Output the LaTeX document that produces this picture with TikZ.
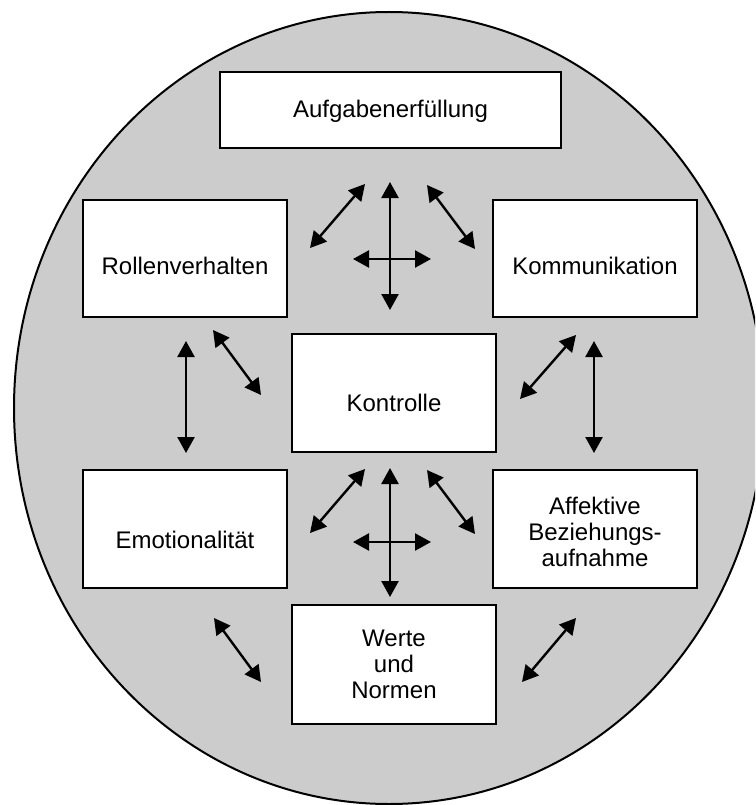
\documentclass[tikz,border=0pt]{standalone}
\usepackage{fontspec}
\setmainfont{Liberation Sans}
\usetikzlibrary{arrows.meta}
\definecolor{fieldgray}{RGB}{204,204,204}
\begin{document}
\begin{tikzpicture}[x=1pt,y=-1pt,
  frame/.style={draw=black, fill=white, line width=2.8pt, inner sep=0pt},
  caption/.style={font=\fontsize{24}{26}\selectfont, align=center, inner sep=0pt},
  link/.style={line width=2.4pt,
    {Triangle[length=16pt,width=17pt]}-{Triangle[length=16pt,width=17pt]}}]
\useasboundingbox (0,0) rectangle (755,805);
\clip (0,0) rectangle (755,805);

% grey field
\draw[fill=fieldgray, line width=2pt] (389,408) ellipse [x radius=375, y radius=396];

% boxes
\node[frame, minimum width=341pt, minimum height=76pt]  (aufg) at (390.5,110) {};
\node[frame, minimum width=204pt, minimum height=117pt] (roll) at (185,258.5) {};
\node[frame, minimum width=204pt, minimum height=117pt] (komm) at (595,258.5) {};
\node[frame, minimum width=204pt, minimum height=118pt] (kont) at (394,393) {};
\node[frame, minimum width=204pt, minimum height=118pt] (emot) at (185,529) {};
\node[frame, minimum width=204pt, minimum height=118pt] (affe) at (595,529) {};
\node[frame, minimum width=204pt, minimum height=119pt] (wert) at (394,664.5) {};

% captions
\node[caption] (aufg-t) at ([yshift=-1pt]aufg.center)  {Aufgabenerfüllung};
\node[caption] (roll-t) at ([yshift=-7pt]roll.center)  {Rollenverhalten};
\node[caption] (komm-t) at ([yshift=-7pt]komm.center)  {Kommunikation};
\node[caption] (kont-t) at ([yshift=-10pt]kont.center) {Kontrolle};
\node[caption] (emot-t) at ([yshift=-11pt]emot.center) {Emotionalität};
\node[caption] (affe-t) at ([yshift=-3pt]affe.center)  {Affektive\\Beziehungs-\\aufnahme};
\node[caption] (wert-t) at (wert.center)               {Werte\\und\\Normen};

% arrow end points
\coordinate (u1a) at (310,248); \coordinate (u1b) at (365,184);
\coordinate (u2a) at (390,182); \coordinate (u2b) at (390,310);
\coordinate (u3a) at (353,259); \coordinate (u3b) at (431,259);
\coordinate (u4a) at (427,185); \coordinate (u4b) at (475,249);

\coordinate (m1a) at (186,341); \coordinate (m1b) at (186,453);
\coordinate (m2a) at (213,330); \coordinate (m2b) at (261,395);
\coordinate (m3a) at (520,399); \coordinate (m3b) at (576,335);
\coordinate (m4a) at (594,341); \coordinate (m4b) at (594,453);

\coordinate (l1a) at (310,533); \coordinate (l1b) at (365,469);
\coordinate (l2a) at (390,468); \coordinate (l2b) at (390,597);
\coordinate (l3a) at (353,542); \coordinate (l3b) at (431,542);
\coordinate (l4a) at (427,470); \coordinate (l4b) at (475,534);

\coordinate (b1a) at (214,618); \coordinate (b1b) at (261,682);
\coordinate (b2a) at (522,682); \coordinate (b2b) at (576,618);

% arrows
\foreach \p in {u1,u2,u3,u4,m1,m2,m3,m4,l1,l2,l3,l4,b1,b2}
  \draw[link] (\p a) -- (\p b);
\end{tikzpicture}
\end{document}
